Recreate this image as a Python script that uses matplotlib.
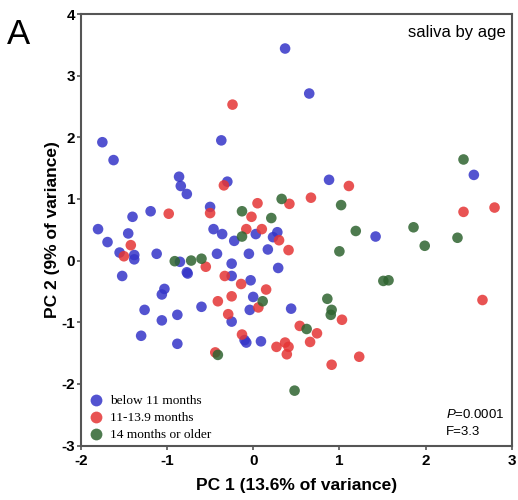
import matplotlib
matplotlib.use("Agg")
import matplotlib.pyplot as plt
from matplotlib.lines import Line2D

plt.rcParams["mathtext.fontset"] = "custom"
plt.rcParams["mathtext.rm"] = "Liberation Sans"
plt.rcParams["mathtext.it"] = "Liberation Sans:italic"

# ---- data (PC1, PC2) ----
blue_x = [0.37, -1.75, -1.62, -0.37, -0.86, -0.84, -0.77, -0.30, -0.50, -1.19, -1.40, 0.65, 2.56, 0.88,
          1.42, 0.44, -1.80, -1.69, -1.45, -1.55, -1.38, -1.38, -1.52, -1.12, -0.85, -0.76, -0.77, -1.03,
          -1.06, -1.26, -1.06, -0.88, -1.30, -0.88, -0.60, -0.46, -0.36, -0.42, -0.25, -0.25, -0.22, 0.03,
          -0.05, 0.17, 0.23, 0.28, 0.29, -0.03, 0.00, -0.04, -0.25, -0.10, -0.08, 0.09]
blue_y = [3.44, 1.92, 1.63, 1.95, 1.36, 1.21, 1.08, 1.28, 0.87, 0.80, 0.71, 2.71, 1.39, 1.31,
          0.39, -0.78, 0.51, 0.30, 0.44, 0.13, 0.09, 0.02, -0.25, 0.11, -0.02, -0.21, -0.19, -0.46,
          -0.55, -0.80, -0.97, -0.88, -1.22, -1.35, -0.75, 0.51, 0.43, 0.11, -0.05, -0.25, 0.32, 0.43,
          0.11, 0.18, 0.38, 0.46, -0.12, -0.32, -0.59, -0.80, -0.99, -1.29, -1.33, -1.31]

red_x = [-0.24, -0.34, -0.50, -0.98, 0.05, -0.02, 0.42, 1.11, 0.67, 2.44, 2.80, 0.41, 2.66, 1.03,
         0.54, 0.74, 0.66, 1.23, 0.91, -1.42, -1.50, -0.55, -0.33, -0.08, 0.10, 0.30, -0.14, 0.15,
         -0.41, -0.25, 0.06, -0.29, -0.13, -0.44, 0.27, 0.37, 0.41, 0.39]
red_y = [2.53, 1.22, 0.77, 0.76, 0.93, 0.71, 0.92, 1.21, 1.02, 0.79, 0.86, 0.17, -0.64, -0.96,
         -1.06, -1.18, -1.32, -1.56, -1.69, 0.25, 0.07, -0.10, -0.25, 0.51, 0.51, 0.33, -0.38, -0.47,
         -0.66, -0.58, -0.76, -0.87, -1.20, -1.49, -1.40, -1.33, -1.40, -1.52]

green_x = [-0.13, 0.33, 0.21, 2.44, 1.02, 1.19, 1.86, 2.37, 1.99, 1.00, 1.51, 1.57, 0.86, 0.91,
           0.90, 0.62, 0.48, -0.91, -0.72, -0.60, -0.13, 0.11, -0.41]
green_y = [0.80, 1.00, 0.69, 1.64, 0.90, 0.48, 0.54, 0.37, 0.24, 0.15, -0.33, -0.32, -0.62, -0.80,
           -0.88, -1.11, -2.11, -0.01, 0.00, 0.03, 0.39, -0.66, -1.53]

group_labels = ["below 11 months", "11-13.9 months", "14 months or older"]
xticks = [-2, -1, 0, 1, 2, 3]
yticks = [-3, -2, -1, 0, 1, 2, 3, 4]

colors = ["#3535C8", "#E53535", "#2F6430"]

fig = plt.figure(figsize=(5.18, 5.0), dpi=100)
ax = fig.add_axes([0.156, 0.109, 0.832, 0.863])

for xs, ys, c in zip([blue_x, red_x, green_x], [blue_y, red_y, green_y], colors):
    ax.scatter(xs, ys, s=58, color=c, alpha=0.85, edgecolors="none", zorder=3)

ax.set_xlim(-2, 3)
ax.set_ylim(-3, 4)
ax.set_xticks(xticks)
ax.set_yticks(yticks)
ax.set_xticklabels([str(t) for t in xticks], fontfamily="Liberation Sans", fontweight="bold", fontsize=11)
ax.set_yticklabels([str(t) for t in yticks], fontfamily="Liberation Sans", fontweight="bold", fontsize=11)
ax.tick_params(direction="out", length=3, width=1.2, color="#555555")
ax.tick_params(axis="x", pad=3)
ax.tick_params(axis="y", pad=1)
for sp in ax.spines.values():
    sp.set_color("#555555")
    sp.set_linewidth(1.5)

ax.set_xlabel("PC 1 (13.6% of variance)", fontfamily="Liberation Sans", fontweight="bold",
              fontsize=12.5, labelpad=7)
ax.set_ylabel("PC 2 (9% of variance)", fontfamily="Liberation Sans", fontweight="bold",
              fontsize=12.5, labelpad=1)

ax.text(0.985, 0.975, "saliva by age", transform=ax.transAxes, ha="right", va="top",
        fontfamily="Liberation Sans", fontsize=12)
ax.text(0.847, 0.063, r"$\it{P}$=0.0001", transform=ax.transAxes, ha="left", va="baseline",
        fontfamily="Liberation Sans", fontsize=9.5)
ax.text(0.847, 0.025, "F=3.3", transform=ax.transAxes, ha="left", va="baseline",
        fontfamily="Liberation Sans", fontsize=9.5)

handles = [Line2D([], [], marker="o", linestyle="none", markersize=8.5, markerfacecolor=c,
                  markeredgecolor="none", alpha=0.85) for c in colors]
leg = ax.legend(handles, group_labels, loc="lower left", bbox_to_anchor=(0.005, -0.003),
                frameon=False, prop={"family": "Liberation Serif", "size": 9.6},
                handletextpad=0.4, labelspacing=0.35, borderaxespad=0.1, handlelength=1.2,
                borderpad=0.3)

fig.text(0.013, 0.93, "A", fontfamily="Liberation Sans", fontsize=25, ha="left", va="center")

fig.savefig("out.png", dpi=100)
